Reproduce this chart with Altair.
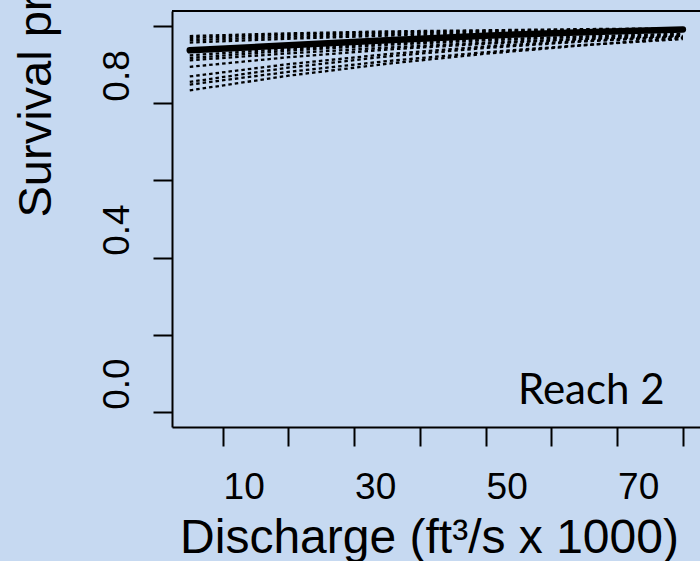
import altair as alt
import pandas as pd

# Discharge grid (ft3/s x 1000) at which curves are read
discharge = [5, 20, 35, 50, 65, 80]

# Posterior sample curves (dotted)
samples = [
    [0.975, 0.982, 0.987, 0.990, 0.993, 0.995],
    [0.970, 0.978, 0.984, 0.988, 0.991, 0.994],
    [0.964, 0.973, 0.980, 0.985, 0.989, 0.992],
    [0.958, 0.968, 0.976, 0.982, 0.987, 0.990],
    [0.925, 0.942, 0.955, 0.966, 0.974, 0.981],
    [0.918, 0.937, 0.952, 0.964, 0.973, 0.980],
    [0.912, 0.930, 0.945, 0.958, 0.968, 0.976],
    [0.895, 0.920, 0.940, 0.955, 0.967, 0.976],
    [0.870, 0.902, 0.928, 0.948, 0.963, 0.974],
    [0.856, 0.893, 0.922, 0.944, 0.961, 0.973],
    [0.849, 0.882, 0.910, 0.933, 0.952, 0.967],
    [0.834, 0.872, 0.903, 0.929, 0.951, 0.970],
]

# Central estimate (thick solid)
central = [0.938, 0.951, 0.964, 0.976, 0.985, 0.992]

x_ticks = [10, 20, 30, 40, 50, 60, 70, 80]
y_ticks = [0.0, 0.2, 0.4, 0.6, 0.8, 1.0]

rows = []
for i, s in enumerate(samples):
    for xv, yv in zip(discharge, s):
        rows.append({"q": xv, "p": yv, "draw": i})
df_s = pd.DataFrame(rows)
df_c = pd.DataFrame({"q": discharge, "p": central})

BG = "#C6D9F1"
FONT = "Liberation Sans"

xscale = alt.Scale(domain=[2.3, 82.6], nice=False, zero=False)
yscale = alt.Scale(domain=[-0.04, 1.04], nice=False, zero=False)

xaxis = alt.Axis(
    values=x_ticks,
    labelExpr="datum.value % 20 == 10 ? datum.label : ''",
    format="d",
    labelOffset=21,
    labelPadding=52,
    labelBaseline="alphabetic",
    labelFlush=False,
    labelOverlap=False,
    title="Discharge (ft³/s x 1000)",
    titleX=257,
    titleY=125,
    titleAlign="center",
    titleBaseline="alphabetic",
    titleFontSize=48,
)
yaxis = alt.Axis(
    values=y_ticks,
    labelExpr="(round(datum.value*10) % 4 == 0) ? format(datum.value, '.1f') : ''",
    labelAngle=270,
    labelAlign="center",
    labelBaseline="alphabetic",
    labelOffset=-28,
    labelPadding=25,
    labelFlush=False,
    labelOverlap=False,
    title="Survival probability",
    titleAngle=270,
    titleAlign="left",
    titleBaseline="alphabetic",
    titleX=-122,
    titleY=206,
    titleFontSize=47,
)

dotted = alt.Chart(df_s).mark_line(
    color="black", strokeWidth=2.3, strokeDash=[3.5, 3], clip=True
).encode(
    x=alt.X("q:Q", scale=xscale, axis=xaxis),
    y=alt.Y("p:Q", scale=yscale, axis=yaxis),
    detail="draw:N",
)

solid = alt.Chart(df_c).mark_line(
    color="black", strokeWidth=6.5, strokeCap="round", clip=True
).encode(
    x=alt.X("q:Q", scale=xscale),
    y=alt.Y("p:Q", scale=yscale),
)

top_border = alt.Chart(df_c).mark_rule(color="black", strokeWidth=2).encode(
    x=alt.value(0), x2=alt.value(540), y=alt.value(0)
)

label = alt.Chart(pd.DataFrame({"t": ["Reach 2"]})).mark_text(
    font="Lato", fontSize=42, color="black", align="left", baseline="alphabetic"
).encode(
    text="t:N", x=alt.value(346), y=alt.value(393)
)

chart = alt.layer(dotted, solid, top_border, label).properties(
    width=528,
    height=416,
    background=BG,
    padding={"left": 172, "top": 11, "right": 0, "bottom": 134},
    autosize=alt.AutoSizeParams(type="none"),
).configure_view(stroke=None).configure_axis(
    grid=False,
    domainColor="black",
    domainWidth=2,
    tickColor="black",
    tickWidth=2,
    tickSize=19,
    labelFont=FONT,
    labelFontSize=37,
    labelColor="black",
    titleFont=FONT,
    titleColor="black",
    titleFontWeight="normal",
)

chart.save("out.html", embed_options={"renderer": "svg", "actions": False})
